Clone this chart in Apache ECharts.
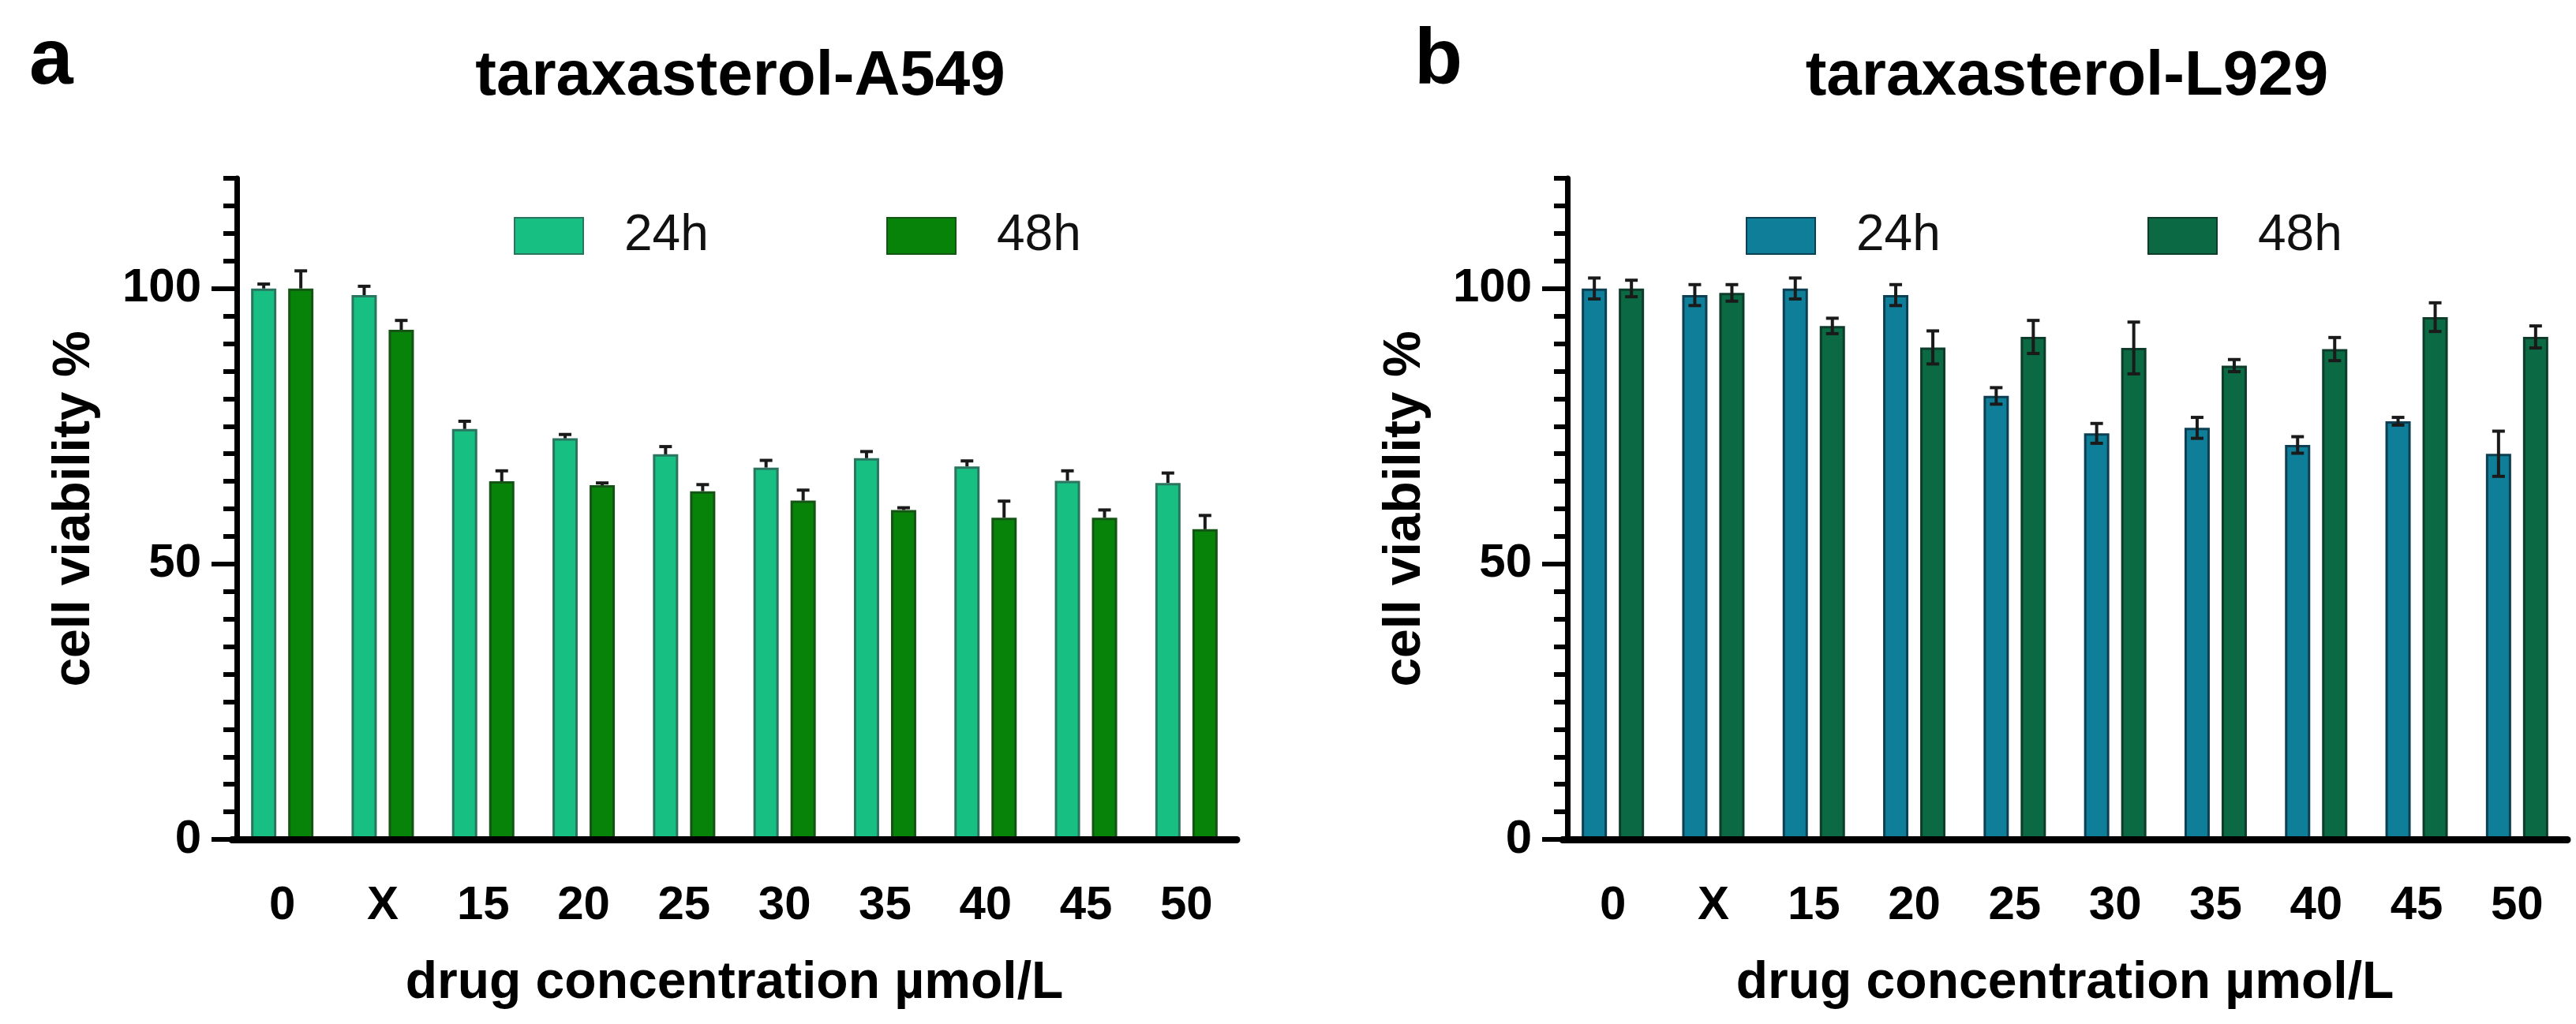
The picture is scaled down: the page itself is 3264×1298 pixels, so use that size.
<!DOCTYPE html>
<html>
<head>
<meta charset="utf-8">
<title>taraxasterol cell viability</title>
<script src="https://cdn.jsdelivr.net/npm/echarts@6/dist/echarts.min.js"></script>
<style>
  html, body { margin: 0; padding: 0; background: #fff; }
  #chart { width: 3264px; height: 1298px; }
</style>
</head>
<body>
<div id="chart"></div>
<script>
// categories (drug concentration)
const categories = ['0', 'X', '15', '20', '25', '30', '35', '40', '45', '50'];

// panel a: taraxasterol-A549
const a24 = [100, 98.8, 74.5, 72.8, 69.9, 67.5, 69.2, 67.7, 65.1, 64.7];
const a24Err = [0.8, 1.6, 1.4, 0.7, 1.4, 1.3, 1.2, 1.0, 1.8, 1.8];
const a48 = [100, 92.5, 65.0, 64.3, 63.2, 61.5, 59.8, 58.4, 58.4, 56.3];
const a48Err = [3.2, 1.7, 1.9, 0.4, 1.2, 1.9, 0.4, 3.0, 1.4, 2.5];

// panel b: taraxasterol-L929
const b24 = [100, 98.8, 100, 98.8, 80.5, 73.7, 74.7, 71.6, 75.9, 70.0];
const b24Err = [1.9, 1.9, 1.9, 1.9, 1.5, 1.8, 1.9, 1.5, 0.7, 4.1];
const b48 = [100, 99.2, 93.2, 89.3, 91.2, 89.2, 86.0, 89.0, 94.8, 91.2];
const b48Err = [1.5, 1.5, 1.4, 3.0, 3.0, 4.7, 1.1, 2.1, 2.6, 2.0];

// y axis ticks
const majorTicks = [0, 50, 100];
const yMax = 120;

const FONT = 'Liberation Sans, Arial, sans-serif';
const BAR_W = 32;
const BAR_GAP = 15;
const OFFSET = BAR_W / 2 + BAR_GAP / 2;
const CAP = 16;

const chart = echarts.init(document.getElementById('chart'));

function errorSeries(axisIdx, values, errs, side, twoSided) {
    return {
        type: 'custom',
        xAxisIndex: axisIdx,
        yAxisIndex: axisIdx * 2,
        z: 10,
        silent: true,
        data: values.map((v, i) => [i, v, errs[i]]),
        encode: { x: 0, y: 1 },
        renderItem(params, api) {
            const i = api.value(0), v = api.value(1), e = api.value(2);
            const top = api.coord([i, v + e]);
            const bot = api.coord([i, twoSided ? v - e : v]);
            const x = top[0] + side * OFFSET;
            const style = { stroke: '#1a1a1a', lineWidth: 4 };
            const children = [
                { type: 'line', shape: { x1: x, y1: bot[1], x2: x, y2: top[1] }, style },
                { type: 'line', shape: { x1: x - CAP / 2, y1: top[1], x2: x + CAP / 2, y2: top[1] }, style }
            ];
            if (twoSided) {
                children.push({ type: 'line', shape: { x1: x - CAP / 2, y1: bot[1], x2: x + CAP / 2, y2: bot[1] }, style });
            }
            return { type: 'group', children };
        }
    };
}

function barSeries(axisIdx, name, values, color, border) {
    return {
        type: 'bar',
        name: name,
        xAxisIndex: axisIdx,
        yAxisIndex: axisIdx * 2,
        barWidth: BAR_W,
        barGap: (BAR_GAP / BAR_W * 100) + '%',
        data: values,
        itemStyle: { color: color, borderColor: border, borderWidth: 3 }
    };
}

function legendItem(name, left) {
    return {
        data: [name],
        left: left,
        top: 262,
        itemWidth: 87,
        itemHeight: 46,
        icon: 'rect',
        selectedMode: false,
        formatter: n => n.slice(2),
        textStyle: { fontFamily: FONT, fontSize: 64, color: '#111', padding: [0, 0, 0, 47] }
    };
}

const grids = [
    { left: 294, top: 226, width: 1273, height: 838 },
    { left: 1980, top: 226, width: 1273, height: 838 }
];

const xAxes = grids.map((g, k) => ({
    type: 'category',
    gridIndex: k,
    data: categories,
    z: 5,
    axisLine: { lineStyle: { color: '#000', width: 9 } },
    axisTick: { alignWithLabel: true, length: 31, lineStyle: { color: '#000', width: 4 } },
    axisLabel: { margin: 54, color: '#000', fontFamily: FONT, fontSize: 60, fontWeight: 'bold' },
    name: 'drug concentration µmol/L',
    nameLocation: 'middle',
    nameGap: 150,
    nameTextStyle: { color: '#000', fontFamily: FONT, fontSize: 66, fontWeight: 'bold' }
}));

const yAxes = [];
grids.forEach((g, k) => {
    // minor ticks every 5, with line and labels
    yAxes.push({
        type: 'value',
        gridIndex: k,
        min: 0,
        max: yMax,
        interval: 5,
        offset: -6,
        splitLine: { show: false },
        axisLine: { show: true, lineStyle: { color: '#000', width: 7 } },
        axisTick: { show: true, length: 17, lineStyle: { color: '#000', width: 6 } },
        axisLabel: {
            customValues: majorTicks,
            margin: 45,
            color: '#000', fontFamily: FONT, fontSize: 60, fontWeight: 'bold'
        },
        name: 'cell viability %',
        nameLocation: 'middle',
        nameGap: 172,
        nameTextStyle: { color: '#000', fontFamily: FONT, fontSize: 66, fontWeight: 'bold' }
    });
    // major ticks at 0 / 50 / 100
    yAxes.push({
        type: 'value',
        gridIndex: k,
        position: 'left',
        min: 0,
        max: yMax,
        interval: 5,
        offset: -6,
        splitLine: { show: false },
        axisLine: { show: false },
        axisTick: { show: true, customValues: majorTicks, length: 32, lineStyle: { color: '#000', width: 6 } },
        axisLabel: { show: false }
    });
});

const option = {
    backgroundColor: '#fff',
    animation: false,
    title: [
        { text: 'a', left: 32, top: 23, textStyle: { fontFamily: FONT, fontSize: 100, fontWeight: 'bold', color: '#000' } },
        { text: 'b', left: 1787, top: 23, textStyle: { fontFamily: FONT, fontSize: 100, fontWeight: 'bold', color: '#000' } },
        { text: 'taraxasterol-A549', left: 933, top: 53, textAlign: 'center', textStyle: { fontFamily: FONT, fontSize: 80, fontWeight: 'bold', color: '#000' } },
        { text: 'taraxasterol-L929', left: 2614, top: 53, textAlign: 'center', textStyle: { fontFamily: FONT, fontSize: 80, fontWeight: 'bold', color: '#000' } }
    ],
    legend: [
        legendItem('a-24h', 646),
        legendItem('a-48h', 1118),
        legendItem('b-24h', 2207),
        legendItem('b-48h', 2716)
    ],
    grid: grids,
    xAxis: xAxes,
    yAxis: yAxes,
    series: [
        barSeries(0, 'a-24h', a24, '#17bf82', '#2b7560'),
        barSeries(0, 'a-48h', a48, '#07830a', '#145414'),
        barSeries(1, 'b-24h', b24, '#0f7f99', '#0d3f52'),
        barSeries(1, 'b-48h', b48, '#0b6a43', '#0d3d2a'),
        errorSeries(0, a24, a24Err, -1, false),
        errorSeries(0, a48, a48Err, 1, false),
        errorSeries(1, b24, b24Err, -1, true),
        errorSeries(1, b48, b48Err, 1, true)
    ]
};

chart.setOption(option);
</script>
</body>
</html>
